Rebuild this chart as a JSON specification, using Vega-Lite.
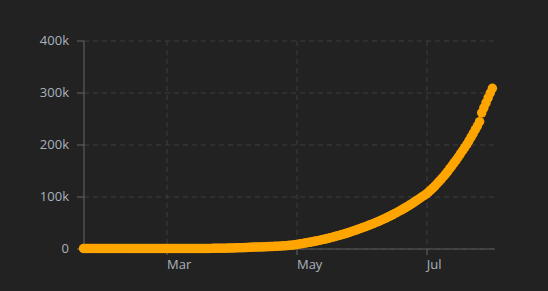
{
  "$schema": "https://vega.github.io/schema/vega-lite/v6.json",
  "width": 411,
  "height": 208,
  "autosize": {"type": "none"},
  "padding": {"left": 83.5, "top": 40.5, "right": 53.5, "bottom": 42.5},
  "background": "#222222",
  "config": {"view": {"stroke": null}, "font": "Open Sans"},
  "data": {"values": [
    {"date": "2020-01-22", "cases": 0}, {"date": "2020-01-23", "cases": 0}, {"date": "2020-01-24", "cases": 0}, {"date": "2020-01-25", "cases": 0}, {"date": "2020-01-26", "cases": 0}, {"date": "2020-01-27", "cases": 0}, {"date": "2020-01-28", "cases": 0}, {"date": "2020-01-29", "cases": 0}, {"date": "2020-01-30", "cases": 0}, {"date": "2020-01-31", "cases": 0},
    {"date": "2020-02-01", "cases": 0}, {"date": "2020-02-02", "cases": 0}, {"date": "2020-02-03", "cases": 0}, {"date": "2020-02-04", "cases": 0}, {"date": "2020-02-05", "cases": 0}, {"date": "2020-02-06", "cases": 0}, {"date": "2020-02-07", "cases": 0}, {"date": "2020-02-08", "cases": 0}, {"date": "2020-02-09", "cases": 0}, {"date": "2020-02-10", "cases": 0},
    {"date": "2020-02-11", "cases": 0}, {"date": "2020-02-12", "cases": 0}, {"date": "2020-02-13", "cases": 0}, {"date": "2020-02-14", "cases": 0}, {"date": "2020-02-15", "cases": 0}, {"date": "2020-02-16", "cases": 0}, {"date": "2020-02-17", "cases": 0}, {"date": "2020-02-18", "cases": 0}, {"date": "2020-02-19", "cases": 0}, {"date": "2020-02-20", "cases": 0},
    {"date": "2020-02-21", "cases": 0}, {"date": "2020-02-22", "cases": 0}, {"date": "2020-02-23", "cases": 0}, {"date": "2020-02-24", "cases": 0}, {"date": "2020-02-25", "cases": 0}, {"date": "2020-02-26", "cases": 0}, {"date": "2020-02-27", "cases": 0}, {"date": "2020-02-28", "cases": 0}, {"date": "2020-02-29", "cases": 0},
    {"date": "2020-03-01", "cases": 0}, {"date": "2020-03-02", "cases": 0}, {"date": "2020-03-03", "cases": 0}, {"date": "2020-03-04", "cases": 0}, {"date": "2020-03-05", "cases": 0},
    {"date": "2020-03-06", "cases": 1}, {"date": "2020-03-07", "cases": 1}, {"date": "2020-03-08", "cases": 1}, {"date": "2020-03-09", "cases": 3}, {"date": "2020-03-10", "cases": 3}, {"date": "2020-03-11", "cases": 9}, {"date": "2020-03-12", "cases": 9}, {"date": "2020-03-13", "cases": 13}, {"date": "2020-03-14", "cases": 22}, {"date": "2020-03-15", "cases": 34},
    {"date": "2020-03-16", "cases": 54}, {"date": "2020-03-17", "cases": 65}, {"date": "2020-03-18", "cases": 93}, {"date": "2020-03-19", "cases": 102}, {"date": "2020-03-20", "cases": 128}, {"date": "2020-03-21", "cases": 196}, {"date": "2020-03-22", "cases": 231}, {"date": "2020-03-23", "cases": 277}, {"date": "2020-03-24", "cases": 378}, {"date": "2020-03-25", "cases": 470},
    {"date": "2020-03-26", "cases": 491}, {"date": "2020-03-27", "cases": 539}, {"date": "2020-03-28", "cases": 608}, {"date": "2020-03-29", "cases": 702}, {"date": "2020-03-30", "cases": 798}, {"date": "2020-03-31", "cases": 906},
    {"date": "2020-04-01", "cases": 1065}, {"date": "2020-04-02", "cases": 1161}, {"date": "2020-04-03", "cases": 1267}, {"date": "2020-04-04", "cases": 1406}, {"date": "2020-04-05", "cases": 1485}, {"date": "2020-04-06", "cases": 1579}, {"date": "2020-04-07", "cases": 1780}, {"date": "2020-04-08", "cases": 2054}, {"date": "2020-04-09", "cases": 2223}, {"date": "2020-04-10", "cases": 2473},
    {"date": "2020-04-11", "cases": 2709}, {"date": "2020-04-12", "cases": 2776}, {"date": "2020-04-13", "cases": 2852}, {"date": "2020-04-14", "cases": 2979}, {"date": "2020-04-15", "cases": 3105}, {"date": "2020-04-16", "cases": 3233}, {"date": "2020-04-17", "cases": 3439}, {"date": "2020-04-18", "cases": 3621}, {"date": "2020-04-19", "cases": 3792}, {"date": "2020-04-20", "cases": 3977},
    {"date": "2020-04-21", "cases": 4149}, {"date": "2020-04-22", "cases": 4356}, {"date": "2020-04-23", "cases": 4561}, {"date": "2020-04-24", "cases": 4881}, {"date": "2020-04-25", "cases": 5142}, {"date": "2020-04-26", "cases": 5379}, {"date": "2020-04-27", "cases": 5700}, {"date": "2020-04-28", "cases": 6100}, {"date": "2020-04-29", "cases": 6500}, {"date": "2020-04-30", "cases": 7000},
    {"date": "2020-05-01", "cases": 7500}, {"date": "2020-05-02", "cases": 8200}, {"date": "2020-05-03", "cases": 9000}, {"date": "2020-05-04", "cases": 9700}, {"date": "2020-05-05", "cases": 10400}, {"date": "2020-05-06", "cases": 11100}, {"date": "2020-05-07", "cases": 11800}, {"date": "2020-05-08", "cases": 12600}, {"date": "2020-05-09", "cases": 13400}, {"date": "2020-05-10", "cases": 14200},
    {"date": "2020-05-11", "cases": 15000}, {"date": "2020-05-12", "cases": 15900}, {"date": "2020-05-13", "cases": 16800}, {"date": "2020-05-14", "cases": 17700}, {"date": "2020-05-15", "cases": 18700}, {"date": "2020-05-16", "cases": 19700}, {"date": "2020-05-17", "cases": 20700}, {"date": "2020-05-18", "cases": 21800}, {"date": "2020-05-19", "cases": 22900}, {"date": "2020-05-20", "cases": 24000},
    {"date": "2020-05-21", "cases": 25100}, {"date": "2020-05-22", "cases": 26300}, {"date": "2020-05-23", "cases": 27500}, {"date": "2020-05-24", "cases": 28700}, {"date": "2020-05-25", "cases": 30000}, {"date": "2020-05-26", "cases": 31300}, {"date": "2020-05-27", "cases": 32700}, {"date": "2020-05-28", "cases": 34100}, {"date": "2020-05-29", "cases": 35500}, {"date": "2020-05-30", "cases": 37000}, {"date": "2020-05-31", "cases": 38500},
    {"date": "2020-06-01", "cases": 40000}, {"date": "2020-06-02", "cases": 41500}, {"date": "2020-06-03", "cases": 43000}, {"date": "2020-06-04", "cases": 44600}, {"date": "2020-06-05", "cases": 46200}, {"date": "2020-06-06", "cases": 47800}, {"date": "2020-06-07", "cases": 49500}, {"date": "2020-06-08", "cases": 51200}, {"date": "2020-06-09", "cases": 53000}, {"date": "2020-06-10", "cases": 54800},
    {"date": "2020-06-11", "cases": 56700}, {"date": "2020-06-12", "cases": 58600}, {"date": "2020-06-13", "cases": 60600}, {"date": "2020-06-14", "cases": 62600}, {"date": "2020-06-15", "cases": 64700}, {"date": "2020-06-16", "cases": 66800}, {"date": "2020-06-17", "cases": 69000}, {"date": "2020-06-18", "cases": 71200}, {"date": "2020-06-19", "cases": 73500}, {"date": "2020-06-20", "cases": 75800},
    {"date": "2020-06-21", "cases": 78200}, {"date": "2020-06-22", "cases": 80600}, {"date": "2020-06-23", "cases": 83100}, {"date": "2020-06-24", "cases": 85700}, {"date": "2020-06-25", "cases": 88300}, {"date": "2020-06-26", "cases": 91000}, {"date": "2020-06-27", "cases": 93800}, {"date": "2020-06-28", "cases": 96600}, {"date": "2020-06-29", "cases": 99500}, {"date": "2020-06-30", "cases": 102000},
    {"date": "2020-07-01", "cases": 105000}, {"date": "2020-07-02", "cases": 108500}, {"date": "2020-07-03", "cases": 112200}, {"date": "2020-07-04", "cases": 116000}, {"date": "2020-07-05", "cases": 120000}, {"date": "2020-07-06", "cases": 124500}, {"date": "2020-07-07", "cases": 129000}, {"date": "2020-07-08", "cases": 133500}, {"date": "2020-07-09", "cases": 138000}, {"date": "2020-07-10", "cases": 143000},
    {"date": "2020-07-11", "cases": 148000}, {"date": "2020-07-12", "cases": 153500}, {"date": "2020-07-13", "cases": 159000}, {"date": "2020-07-14", "cases": 164500}, {"date": "2020-07-15", "cases": 170000}, {"date": "2020-07-16", "cases": 176000}, {"date": "2020-07-17", "cases": 182000}, {"date": "2020-07-18", "cases": 188000}, {"date": "2020-07-19", "cases": 194000}, {"date": "2020-07-20", "cases": 200000},
    {"date": "2020-07-21", "cases": 207000}, {"date": "2020-07-22", "cases": 214000}, {"date": "2020-07-23", "cases": 221000}, {"date": "2020-07-24", "cases": 228500}, {"date": "2020-07-25", "cases": 236000}, {"date": "2020-07-26", "cases": 244000}, {"date": "2020-07-27", "cases": 261000}, {"date": "2020-07-28", "cases": 270500}, {"date": "2020-07-29", "cases": 280000}, {"date": "2020-07-30", "cases": 289500},
    {"date": "2020-07-31", "cases": 299000}, {"date": "2020-08-01", "cases": 308000}
  ]},
  "mark": {"type": "circle", "color": "#ffa500", "opacity": 1, "size": 90},
  "encoding": {
    "x": {
      "field": "date",
      "type": "temporal",
      "scale": {"domain": ["2020-01-22", "2020-08-02"]},
      "axis": {
        "title": null,
        "format": "%b",
        "tickCount": {"interval": "month", "step": 2},
        "labelAlign": "left",
        "labelDx": 3,
        "labelFlush": false,
        "labelColor": "#aab2bb",
        "labelFontSize": 13,
        "labelPadding": 4,
        "tickColor": "#666666",
        "tickSize": 6,
        "domainColor": "#5a5a5a",
        "gridColor": "#3c3c3c",
        "gridDash": [5, 4]
      }
    },
    "y": {
      "field": "cases",
      "type": "quantitative",
      "scale": {"domain": [0, 400000]},
      "axis": {
        "title": null,
        "values": [0, 100000, 200000, 300000, 400000],
        "labelExpr": "datum.value === 0 ? '0' : format(datum.value / 1000, 'd') + 'k'",
        "labelColor": "#aab2bb",
        "labelFontSize": 13,
        "labelPadding": 8,
        "tickColor": "#666666",
        "tickSize": 7,
        "domainColor": "#666666",
        "gridColor": "#3c3c3c",
        "gridDash": [5, 4]
      }
    }
  }
}
